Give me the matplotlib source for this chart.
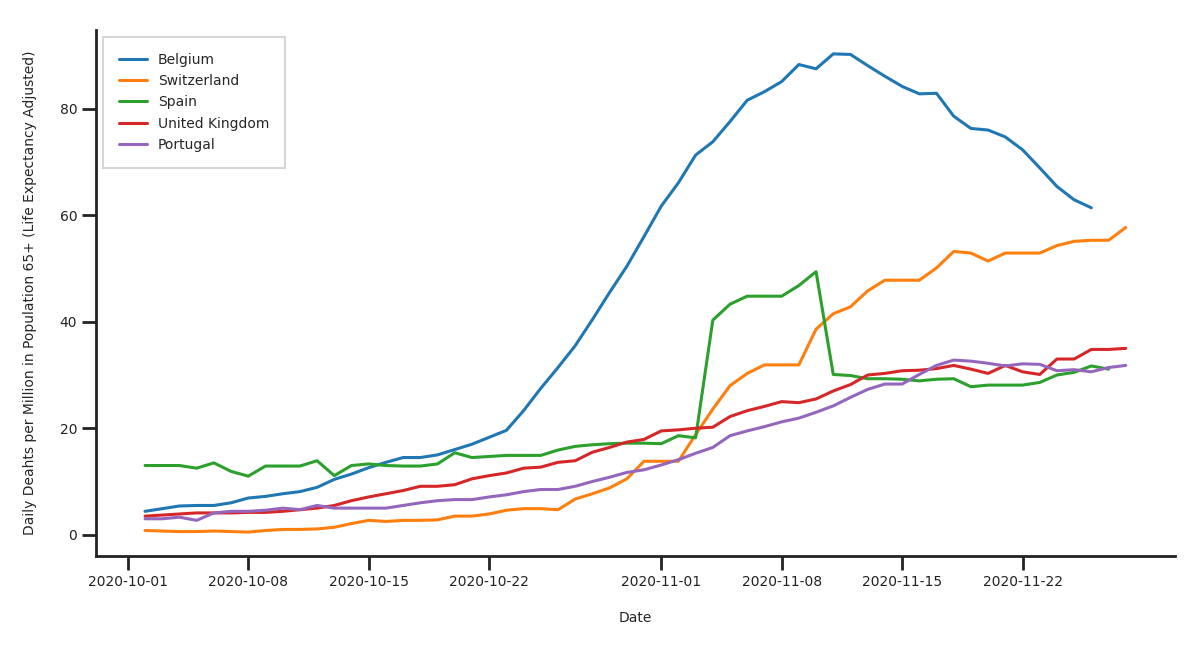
import numpy as np
import pandas as pd
import matplotlib
matplotlib.use("Agg")
import matplotlib.pyplot as plt
import matplotlib.dates as mdates
import seaborn as sns

# daily values, starting 2020-10-02
belgium = [4.4, 4.9, 5.4, 5.5, 5.5, 6.0, 6.9, 7.2, 7.7, 8.1,
           8.9, 10.4, 11.4, 12.6, 13.6, 14.5, 14.5, 15.0, 16.0, 17.0,
           18.3, 19.6, 23.3, 27.5, 31.4, 35.5, 40.4, 45.5, 50.4, 56.0,
           61.7, 66.1, 71.3, 73.8, 77.6, 81.6, 83.2, 85.1, 88.3, 87.5,
           90.3, 90.2, 88.1, 86.1, 84.2, 82.8, 82.9, 78.6, 76.3, 76.0,
           74.7, 72.3, 68.9, 65.4, 62.9, 61.4]
switzerland = [0.8, 0.7, 0.6, 0.6, 0.7, 0.6, 0.5, 0.8, 1.0, 1.0,
               1.1, 1.4, 2.1, 2.7, 2.5, 2.7, 2.7, 2.8, 3.5, 3.5,
               3.9, 4.6, 4.9, 4.9, 4.7, 6.7, 7.7, 8.8, 10.5, 13.8,
               13.8, 13.8, 18.8, 23.6, 28.0, 30.3, 31.9, 31.9, 31.9, 38.6,
               41.5, 42.8, 45.8, 47.8, 47.8, 47.8, 50.1, 53.2, 52.9, 51.4,
               52.9, 52.9, 52.9, 54.3, 55.1, 55.3, 55.3, 57.7]
spain = [13.0, 13.0, 13.0, 12.5, 13.5, 11.9, 11.0, 12.9, 12.9, 12.9,
         13.9, 11.1, 13.0, 13.3, 13.0, 12.9, 12.9, 13.3, 15.4, 14.5,
         14.7, 14.9, 14.9, 14.9, 15.9, 16.6, 16.9, 17.1, 17.2, 17.2,
         17.1, 18.6, 18.2, 40.3, 43.3, 44.8, 44.8, 44.8, 46.8, 49.4,
         30.1, 29.9, 29.3, 29.3, 29.2, 28.9, 29.2, 29.3, 27.8, 28.1,
         28.1, 28.1, 28.6, 30.0, 30.5, 31.7, 31.1]
uk = [3.5, 3.7, 3.9, 4.1, 4.1, 4.1, 4.2, 4.2, 4.4, 4.7,
      5.0, 5.5, 6.4, 7.1, 7.7, 8.3, 9.1, 9.1, 9.4, 10.5,
      11.1, 11.6, 12.5, 12.7, 13.6, 13.9, 15.5, 16.4, 17.4, 17.9,
      19.5, 19.7, 20.0, 20.2, 22.2, 23.3, 24.1, 25.0, 24.8, 25.5,
      27.0, 28.2, 30.0, 30.3, 30.8, 30.9, 31.2, 31.8, 31.1, 30.3,
      31.8, 30.6, 30.1, 33.0, 33.0, 34.8, 34.8, 35.0]
portugal = [3.0, 3.0, 3.3, 2.7, 4.1, 4.4, 4.4, 4.6, 5.0, 4.7,
            5.5, 5.0, 5.0, 5.0, 5.0, 5.5, 6.0, 6.4, 6.6, 6.6,
            7.1, 7.5, 8.1, 8.5, 8.5, 9.1, 10.0, 10.8, 11.7, 12.2,
            13.1, 14.1, 15.3, 16.4, 18.6, 19.5, 20.3, 21.2, 21.9, 23.0,
            24.2, 25.8, 27.3, 28.3, 28.3, 30.1, 31.8, 32.8, 32.6, 32.2,
            31.7, 32.1, 32.0, 30.8, 31.0, 30.6, 31.4, 31.8]

countries = ["Belgium", "Switzerland", "Spain", "United Kingdom", "Portugal"]
series = [belgium, switzerland, spain, uk, portugal]
colors = ["tab:blue", "tab:orange", "tab:green", "tab:red", "tab:purple"]

sns.set_theme(style="ticks")
plt.rcParams['font.family'] = ['DejaVu Sans']

fig = plt.figure(figsize=(12, 6.49), dpi=100)
ax = fig.add_axes([0.08, 0.1433, 0.899, 0.8105])

start = pd.Timestamp("2020-10-02")
for name, vals, c in zip(countries, series, colors):
    dates = pd.date_range(start, periods=len(vals), freq="D")
    ax.plot(dates, vals, label=name, color=c, linewidth=2.2)

ax.xaxis.set_major_locator(mdates.DayLocator(bymonthday=[1, 8, 15, 22]))
ax.xaxis.set_major_formatter(mdates.DateFormatter("%Y-%m-%d"))
ax.set_yticks([0, 20, 40, 60, 80])

ax.tick_params(axis="both", labelsize=10, length=10, width=2, colors="#222222")
for s in ["left", "bottom"]:
    ax.spines[s].set_linewidth(2)
    ax.spines[s].set_color("#222222")
sns.despine(ax=ax)

ax.set_xlabel("Date", fontsize=10, labelpad=16)
ax.set_ylabel("Daily Deahts per Million in Population 65+ (Life Expectancy Adjusted)", fontsize=10, labelpad=16)

leg = ax.legend(loc="upper left", fontsize=10, fancybox=False, frameon=True,
                edgecolor="#cccccc", borderpad=1.15, labelspacing=0.52)
leg.get_frame().set_linewidth(1.5)

fig.savefig("out.png", dpi=100)
